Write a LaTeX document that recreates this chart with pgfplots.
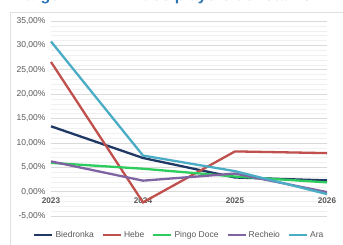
\documentclass[border=0pt]{standalone}
\usepackage{pgfplots}
\pgfplotsset{compat=1.18}
\usepackage{fontspec}
\setmainfont{Liberation Sans}
\definecolor{cBie}{HTML}{1F3864}
\definecolor{cHeb}{HTML}{C0504D}
\definecolor{cPin}{HTML}{2ECC5E}
\definecolor{cRec}{HTML}{8064A2}
\definecolor{cAra}{HTML}{4BACC6}
\definecolor{tgray}{HTML}{595959}
\definecolor{tblue}{HTML}{2E75B6}
\begin{document}
\begin{tikzpicture}[x=1pt,y=1pt]
\path[use as bounding box] (0,0) rectangle (343,244);
\clip (0,0) rectangle (343,244);
\fill[white] (0,0) rectangle (343,244);
\node[anchor=base west, text=tblue, font=\bfseries\fontsize{16}{16}\selectfont, inner sep=0pt] at (12,243) {Margem EBITDA dos players de retalho};
\draw[draw=gray!25, line width=0.8pt] (10,-5) -- (10,232) -- (350,232);
\begin{axis}[
  at={(51pt,28pt)}, anchor=south west,
  scale only axis, width=276pt, height=195pt,
  xmin=2023, xmax=2026, ymin=-5, ymax=35,
  xtick={2023,2024,2025,2026},
  xticklabels={2023,2024,2025,2026},
  ytick={-5,0,...,35},
  minor ytick={-4,-3,-2,-1,1,2,3,4,6,7,8,9,11,12,13,14,16,17,18,19,21,22,23,24,26,27,28,29,31,32,33,34},
  ymajorgrids, yminorgrids,
  major grid style={draw=gray!30, line width=0.6pt},
  minor grid style={draw=gray!12, line width=0.5pt},
  axis line style={draw=none},
  tick style={draw=none},
  /pgf/number format/assume math mode=true,
  yticklabel={\pgfmathprintnumber[fixed,fixed zerofill,precision=2,use comma]{\tick}\%},
  yticklabel style={font=\fontsize{8.5}{9}\selectfont, text=tgray, xshift=-2pt},
  xticklabel style={font=\bfseries\fontsize{8.2}{9}\selectfont, text=tgray, yshift=22pt},
  legend style={at={(0.465,-0.097)}, anchor=center, draw=none, fill=none,
    font=\fontsize{8.5}{9}\selectfont, text=tgray, legend columns=5,
    /tikz/every even column/.append style={column sep=6pt}},
  legend image code/.code={\draw[#1, line width=2.2pt] (0pt,0pt) -- (18pt,0pt);},
  every axis plot/.append style={line width=2.3pt, mark=none},
  clip=false,
]
\addplot[cBie] coordinates {(2023,13.4) (2024,6.9) (2025,2.9) (2026,2.3)};
\addlegendentry{Biedronka}
\addplot[cHeb] coordinates {(2023,26.6) (2024,-2.2) (2025,8.25) (2026,7.9)};
\addlegendentry{Hebe}
\addplot[cPin] coordinates {(2023,5.9) (2024,4.7) (2025,3.1) (2026,1.9)};
\addlegendentry{Pingo Doce}
\addplot[cRec] coordinates {(2023,6.2) (2024,2.25) (2025,3.7) (2026,-0.1)};
\addlegendentry{Recheio}
\addplot[cAra] coordinates {(2023,30.8) (2024,7.4) (2025,4.2) (2026,-0.5)};
\addlegendentry{Ara}
\end{axis}
\end{tikzpicture}
\end{document}
